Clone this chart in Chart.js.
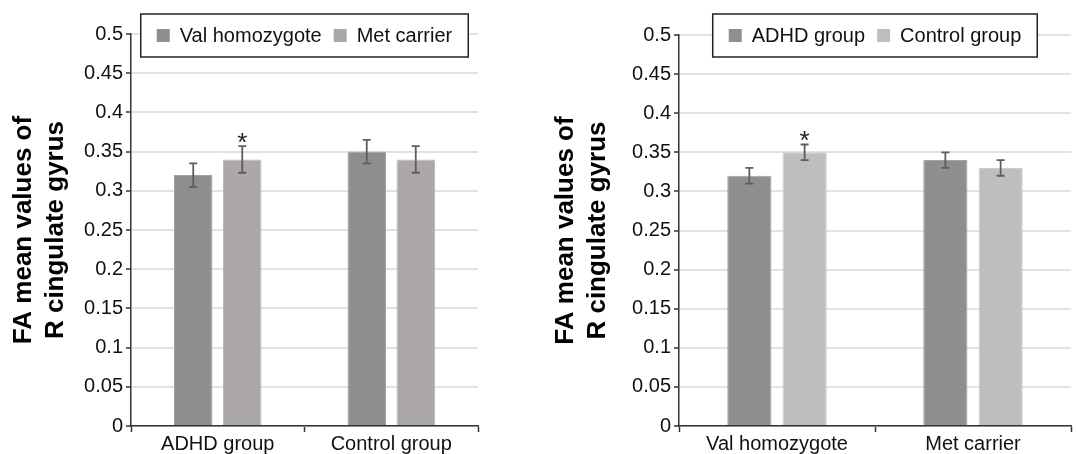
<!DOCTYPE html>
<html>
<head>
<meta charset="utf-8">
<script src="https://cdn.jsdelivr.net/npm/chart.js@4.4.1/dist/chart.umd.min.js"></script>
<style>
  html, body { margin: 0; padding: 0; background: #fff; overflow: hidden; }
  .panel { position: absolute; top: 0; height: 454px; }
  #leftWrap { left: 0; width: 540px; }
  #rightWrap { left: 540px; width: 537px; }
</style>
</head>
<body>
<div class="panel" id="leftWrap"><canvas id="leftChart" width="540" height="454"></canvas></div>
<div class="panel" id="rightWrap"><canvas id="rightChart" width="537" height="454"></canvas></div>
<script>
// shared axis
const yTickLabels = ['0', '0.05', '0.1', '0.15', '0.2', '0.25', '0.3', '0.35', '0.4', '0.45', '0.5'];
const yTitle = ['FA mean values of', 'R cingulate gyrus'];

// left panel: genotype within diagnosis group
const leftCategories = ['ADHD group', 'Control group'];
const leftSeries = ['Val homozygote', 'Met carrier'];
const leftVal = [0.32, 0.35];
const leftValErr = [0.015, 0.015];
const leftMet = [0.34, 0.34];
const leftMetErr = [0.017, 0.017];
const leftValMarks = ['', ''];
const leftMetMarks = ['*', ''];

// right panel: diagnosis group within genotype
const rightCategories = ['Val homozygote', 'Met carrier'];
const rightSeries = ['ADHD group', 'Control group'];
const rightAdhd = [0.32, 0.34];
const rightAdhdErr = [0.01, 0.01];
const rightControl = [0.35, 0.33];
const rightControlErr = [0.01, 0.01];
const rightAdhdMarks = ['', ''];
const rightControlMarks = ['*', ''];

const FONT = "'Liberation Sans', Arial, Helvetica, sans-serif";

// error bars + significance stars
const errorBarPlugin = {
  id: 'errorBars',
  afterDatasetsDraw(chart) {
    const ctx = chart.ctx;
    const y = chart.scales.y;
    chart.data.datasets.forEach((ds, i) => {
      const meta = chart.getDatasetMeta(i);
      meta.data.forEach((bar, j) => {
        const v = ds.data[j];
        const e = ds.errors[j];
        const top = y.getPixelForValue(v + e);
        const bot = y.getPixelForValue(v - e);
        ctx.save();
        ctx.strokeStyle = '#5e5e5e';
        ctx.lineWidth = 1.8;
        ctx.beginPath();
        ctx.moveTo(bar.x, top); ctx.lineTo(bar.x, bot);
        ctx.moveTo(bar.x - 4, top); ctx.lineTo(bar.x + 4, top);
        ctx.moveTo(bar.x - 4, bot); ctx.lineTo(bar.x + 4, bot);
        ctx.stroke();
        if (ds.marks[j]) {
          ctx.fillStyle = '#222';
          ctx.font = '26px ' + FONT;
          ctx.textAlign = 'center';
          ctx.textBaseline = 'alphabetic';
          ctx.fillText(ds.marks[j], bar.x, top + 5);
        }
        ctx.restore();
      });
    });
  }
};

// boxed legend sitting over the top of the plot
const boxLegendPlugin = {
  id: 'boxLegend',
  afterDraw(chart) {
    const ctx = chart.ctx;
    const area = chart.chartArea;
    ctx.save();
    ctx.font = '20px ' + FONT;
    const pad = 16, sw = 13, gap = 10, itemGap = 12;
    const items = chart.data.datasets.map(ds => ({ label: ds.label, color: ds.backgroundColor, w: ctx.measureText(ds.label).width }));
    let total = pad * 2;
    items.forEach((it, k) => { total += sw + gap + it.w + (k ? itemGap : 0); });
    const bx = (area.left + area.right) / 2 - total / 2;
    const by = 14, bh = 43;
    ctx.fillStyle = '#fff';
    ctx.fillRect(bx, by, total, bh);
    ctx.strokeStyle = '#222';
    ctx.lineWidth = 1.5;
    ctx.strokeRect(bx, by, total, bh);
    let x = bx + pad;
    const cy = by + bh / 2;
    items.forEach((it, k) => {
      if (k) x += itemGap;
      ctx.fillStyle = it.color;
      ctx.fillRect(x, cy - sw / 2, sw, sw);
      x += sw + gap;
      ctx.fillStyle = '#111';
      ctx.textBaseline = 'middle';
      ctx.textAlign = 'left';
      ctx.fillText(it.label, x, cy + 1);
      x += it.w;
    });
    ctx.restore();
  }
};

function makeChart(id, cfg) {
  return new Chart(document.getElementById(id), {
    type: 'bar',
    data: {
      labels: cfg.categories,
      datasets: cfg.series.map((name, k) => ({
        label: name,
        data: cfg.values[k],
        errors: cfg.errors[k],
        marks: cfg.marks[k],
        backgroundColor: cfg.colors[k],
        borderColor: cfg.edges[k],
        borderWidth: 1,
        categoryPercentage: cfg.catPct,
        barPercentage: cfg.barPct
      }))
    },
    options: {
      responsive: false,
      animation: false,
      layout: { padding: { top: cfg.padTop, right: cfg.padRight, left: 0, bottom: 0 } },
      plugins: { legend: { display: false }, tooltip: { enabled: false } },
      scales: {
        x: {
          afterFit: (s) => { s.height = 28; },
          border: { color: '#333', width: 1.5 },
          grid: { drawOnChartArea: false, drawTicks: true, tickLength: 6, tickColor: '#333', tickWidth: 1.5 },
          ticks: { color: '#111', font: { family: FONT, size: 20 }, padding: 0 }
        },
        y: {
          min: 0,
          max: 0.5,
          afterFit: (s) => { s.width = cfg.axisX; },
          afterBuildTicks: (s) => { s.ticks = yTickLabels.map(t => ({ value: Number(t) })); },
          border: { color: '#333', width: 1.5 },
          grid: { color: '#e2e2e2', lineWidth: 2, drawTicks: true, tickLength: 5, tickColor: '#333', tickWidth: 1.5 },
          ticks: {
            color: '#111',
            font: { family: FONT, size: 20 },
            padding: 3,
            callback: (v, i) => yTickLabels[i]
          },
          title: {
            display: true,
            text: yTitle,
            color: '#000',
            font: { family: FONT, size: 26, weight: 'bold', lineHeight: 1.23 },
            padding: { top: cfg.titlePad, bottom: 0 }
          }
        }
      }
    },
    plugins: [errorBarPlugin, boxLegendPlugin]
  });
}

makeChart('leftChart', {
  categories: leftCategories,
  series: leftSeries,
  values: [leftVal, leftMet],
  errors: [leftValErr, leftMetErr],
  marks: [leftValMarks, leftMetMarks],
  colors: ['#8e8e8e', '#aca8a7'],
  edges: ['#a2a2a2', '#bcb9b8'],
  catPct: 0.565,
  barPct: 0.786,
  padTop: 34,
  padRight: 62,
  axisX: 131,
  titlePad: 8
});

makeChart('rightChart', {
  categories: rightCategories,
  series: rightSeries,
  values: [rightAdhd, rightControl],
  errors: [rightAdhdErr, rightControlErr],
  marks: [rightAdhdMarks, rightControlMarks],
  colors: ['#8f8f8f', '#bebebe'],
  edges: ['#a3a3a3', '#cdcdcd'],
  catPct: 0.564,
  barPct: 0.8,
  padTop: 35,
  padRight: 6,
  axisX: 139,
  titlePad: 10
});
</script>
</body>
</html>
